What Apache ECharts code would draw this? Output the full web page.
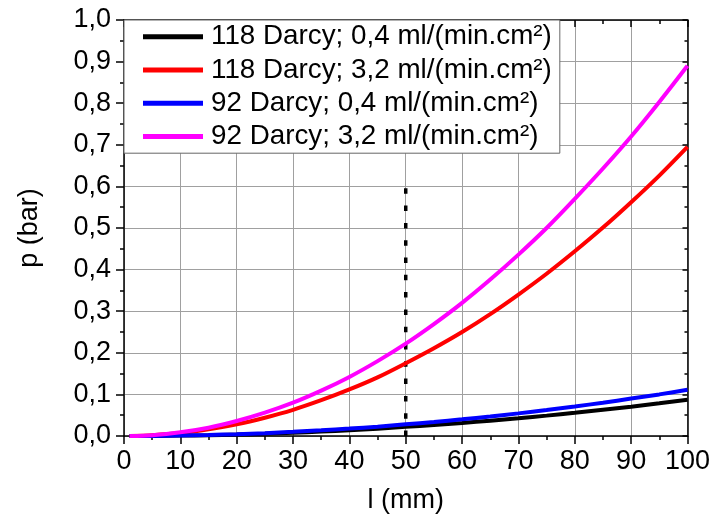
<!DOCTYPE html>
<html><head><meta charset="utf-8">
<script src="https://cdn.jsdelivr.net/npm/echarts@6/dist/echarts.min.js"></script>
<style>html,body{margin:0;padding:0;background:#fff}#c{width:713px;height:523px}</style>
</head><body><div id="c"></div>
<script>
const seriesNames = ['118 Darcy; 0,4 ml/(min.cm²)','118 Darcy; 3,2 ml/(min.cm²)','92 Darcy; 0,4 ml/(min.cm²)','92 Darcy; 3,2 ml/(min.cm²)'];
const xVals = [1, 5, 10, 15, 20, 25, 30, 35, 40, 45, 50, 55, 60, 65, 70, 75, 80, 85, 90, 95, 100];
const black118Low = [0, 0.0002, 0.001, 0.002, 0.0035, 0.0055, 0.008, 0.0107, 0.014, 0.0176, 0.022, 0.0263, 0.0313, 0.0368, 0.0426, 0.049, 0.0557, 0.063, 0.0705, 0.0785, 0.087];
const red118High  = [0, 0.002, 0.007, 0.016, 0.028, 0.044, 0.063, 0.086, 0.112, 0.141, 0.175, 0.211, 0.250, 0.293, 0.340, 0.390, 0.444, 0.501, 0.562, 0.626, 0.695];
const blue92Low   = [0, 0.0003, 0.0011, 0.0025, 0.0044, 0.0069, 0.010, 0.0136, 0.0178, 0.0225, 0.028, 0.0336, 0.040, 0.047, 0.0544, 0.0624, 0.071, 0.080, 0.090, 0.100, 0.111];
const mag92High   = [0, 0.002, 0.009, 0.020, 0.036, 0.056, 0.080, 0.109, 0.142, 0.180, 0.222, 0.269, 0.320, 0.376, 0.436, 0.500, 0.570, 0.643, 0.720, 0.803, 0.890];
const refX = [50, 50];
const refY = [0, 0.6];
const colors = ['#000000', '#ff0000', '#0000ff', '#ff00ff'];

const font = "'Liberation Sans', Arial, sans-serif";
const zip = (xs, ys) => xs.map((x, i) => [x, ys[i]]);
const fmt = v => v.toFixed(1).replace('.', ',');

const chart = echarts.init(document.getElementById('c'));
const lineSeries = (name, data, color) => ({
  name, type: 'line', data, smooth: 0.3, showSymbol: false, symbol: 'none',
  lineStyle: { color, width: 4 }, itemStyle: { color }, z: 3
});
chart.setOption({
  animation: false,
  textStyle: { fontFamily: font },
  grid: { left: 124, right: 23, top: 20, bottom: 87 },
  legend: {
    orient: 'vertical', left: 124, top: 20, icon: 'rect', itemWidth: 60, itemHeight: 5,
    itemGap: 0, padding: [0, 8, 0, 19], backgroundColor: '#fff', borderColor: '#666', borderWidth: 1,
    textStyle: { fontSize: 27.8, color: '#000', fontFamily: font, lineHeight: 33.3, padding: [0, 0, 0, 3] },
    data: seriesNames, z: 5
  },
  xAxis: [{
    type: 'value', min: 0, max: 100, interval: 10, position: 'bottom',
    name: 'l (mm)', nameLocation: 'middle', nameGap: 51,
    nameTextStyle: { fontSize: 27, color: '#000', fontFamily: font },
    axisLine: { show: true, onZero: false, lineStyle: { color: '#000', width: 1.5 } },
    axisTick: { show: true, inside: false, length: 8, lineStyle: { color: '#000', width: 1.5 } },
    minorTick: { show: true, splitNumber: 2, length: 4, lineStyle: { color: '#000', width: 1.5 } },
    axisLabel: { fontSize: 27, color: '#000', margin: 12, fontFamily: font },
    splitLine: { show: true, lineStyle: { color: '#a0a0a0', width: 1 } }
  }, {
    type: 'value', min: 0, max: 100, interval: 10, position: 'top',
    axisLine: { show: true, onZero: false, lineStyle: { color: '#000', width: 1.5 } },
    axisTick: { show: true, inside: true, length: 7, lineStyle: { color: '#000', width: 1.5 } },
    minorTick: { show: true, splitNumber: 2, length: 4, lineStyle: { color: '#000', width: 1.5 } },
    axisLabel: { show: false }, splitLine: { show: false }
  }],
  yAxis: [{
    type: 'value', min: 0, max: 1, interval: 0.1, position: 'left',
    name: 'p (bar)', nameLocation: 'middle', nameGap: 81, nameRotate: 90,
    nameTextStyle: { fontSize: 27, color: '#000', fontFamily: font },
    axisLine: { show: true, onZero: false, lineStyle: { color: '#000', width: 1.5 } },
    axisTick: { show: true, inside: false, length: 8, lineStyle: { color: '#000', width: 1.5 } },
    minorTick: { show: true, splitNumber: 2, length: 4, lineStyle: { color: '#000', width: 1.5 } },
    axisLabel: { fontSize: 27, color: '#000', margin: 13, fontFamily: font, formatter: fmt },
    splitLine: { show: true, lineStyle: { color: '#a0a0a0', width: 1 } }
  }, {
    type: 'value', min: 0, max: 1, interval: 0.1, position: 'right',
    axisLine: { show: true, onZero: false, lineStyle: { color: '#000', width: 1.5 } },
    axisTick: { show: true, inside: true, length: 5, lineStyle: { color: '#000', width: 1.5 } },
    minorTick: { show: true, splitNumber: 2, length: 3, lineStyle: { color: '#000', width: 1.5 } },
    axisLabel: { show: false }, splitLine: { show: false }
  }],
  series: [
    {
      name: 'ref', type: 'line', data: zip(refX, refY), showSymbol: false, symbol: 'none',
      lineStyle: { color: '#000', width: 3.5, type: [5.5, 11.8] }, z: 2, silent: true
    },
    lineSeries(seriesNames[0], zip(xVals, black118Low), colors[0]),
    lineSeries(seriesNames[1], zip(xVals, red118High), colors[1]),
    lineSeries(seriesNames[2], zip(xVals, blue92Low), colors[2]),
    lineSeries(seriesNames[3], zip(xVals, mag92High), colors[3])
  ]
});
</script></body></html>
